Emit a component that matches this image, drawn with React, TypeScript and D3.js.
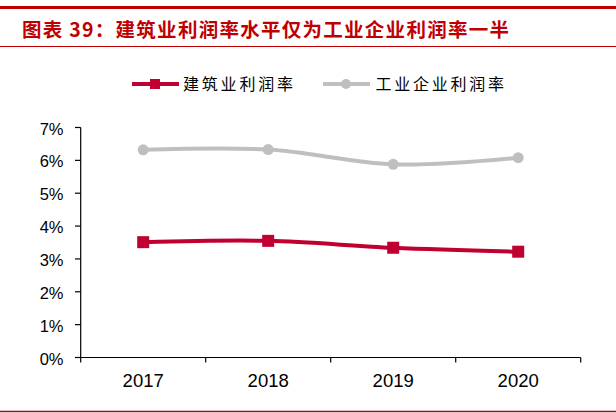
import React from 'react';
import * as d3 from 'd3';

const years = ['2017', '2018', '2019', '2020'];
const construction = [3.51, 3.55, 3.34, 3.22];
const industry = [6.32, 6.33, 5.88, 6.08];
const yTicks = [0, 1, 2, 3, 4, 5, 6, 7];
const titleText = '图表 39：建筑业利润率水平仅为工业企业利润率一半';
const seriesNames = ['建筑业利润率', '工业企业利润率'];

const RED = '#C00030';
const GRAY = '#BFBFBF';
const TITLE_RED = '#C00000';

export default function App() {
  const W = 616, H = 413;
  const x = d3.scaleBand<string>().domain(years).range([80.7, 580.7]);
  const y = d3.scaleLinear().domain([0, 7]).range([357.5, 127.5]);
  const cx = (i: number) => (x(years[i]) as number) + x.bandwidth() / 2;
  const line = d3.line<number>().x((d, i) => cx(i)).y(d => y(d)).curve(d3.curveCatmullRom.alpha(0.5));
  const axisFont = '"Liberation Sans", Arial, sans-serif';
  const cjk = '"Noto Sans CJK SC", sans-serif';
  return (
    <svg width={W} height={H} style={{ position: 'absolute', left: 0, top: 0, display: 'block', background: '#fff' }}>
      <rect x={0} y={0} width={W} height={H} fill="#fff" />
      <line x1={0} x2={W} y1={7.5} y2={7.5} stroke={TITLE_RED} strokeWidth={3} />
      <text x={22} y={36.5} fill={TITLE_RED} fontFamily={cjk} fontWeight="bold" fontSize={19.5} textLength={487} lengthAdjust="spacing">{titleText}</text>
      <line x1={0} x2={W} y1={46.5} y2={46.5} stroke={TITLE_RED} strokeWidth={1} />
      <line x1={0} x2={W} y1={411.5} y2={411.5} stroke={TITLE_RED} strokeWidth={1.5} />

      {/* legend */}
      <g>
        <line x1={132} x2={179} y1={84} y2={84} stroke={RED} strokeWidth={4} />
        <rect x={150} y={79} width={10} height={10} fill={RED} />
        <text x={183} y={90} fontFamily={cjk} fontSize={16} fill="#000" textLength={110} lengthAdjust="spacing">{seriesNames[0]}</text>
        <line x1={323} x2={370} y1={84} y2={84} stroke={GRAY} strokeWidth={4} />
        <circle cx={346} cy={84} r={5} fill={GRAY} />
        <text x={375.5} y={90} fontFamily={cjk} fontSize={16} fill="#000" textLength={128.5} lengthAdjust="spacing">{seriesNames[1]}</text>
      </g>

      {/* y axis */}
      <line x1={80.7} x2={80.7} y1={y(7)} y2={y(0)} stroke="#000" strokeWidth={1.2} />
      {yTicks.map(t => (
        <g key={t}>
          <line x1={75} x2={80.7} y1={y(t)} y2={y(t)} stroke="#000" strokeWidth={1.2} />
          <text x={63.5} y={y(t) + 7} textAnchor="end" fontFamily={axisFont} fontSize={16.5} fill="#000">{t}%</text>
        </g>
      ))}

      {/* x axis */}
      <line x1={80.7} x2={580.7} y1={y(0)} y2={y(0)} stroke="#000" strokeWidth={1.2} />
      {[...years.map(yr => x(yr) as number), 580.7].map((v, i) => (
        <line key={i} x1={v} x2={v} y1={y(0)} y2={y(0) + 5} stroke="#000" strokeWidth={1.2} />
      ))}
      {years.map((yr, i) => (
        <text key={yr} x={cx(i)} y={386.5} textAnchor="middle" fontFamily={axisFont} fontSize={18.5} fill="#000">{yr}</text>
      ))}

      {/* series */}
      <path d={line(industry) || ''} fill="none" stroke={GRAY} strokeWidth={4} />
      {industry.map((v, i) => <circle key={i} cx={cx(i)} cy={y(v)} r={5.5} fill={GRAY} />)}
      <path d={line(construction) || ''} fill="none" stroke={RED} strokeWidth={4} />
      {construction.map((v, i) => <rect key={i} x={cx(i) - 6} y={y(v) - 6} width={12} height={12} fill={RED} />)}
    </svg>
  );
}
